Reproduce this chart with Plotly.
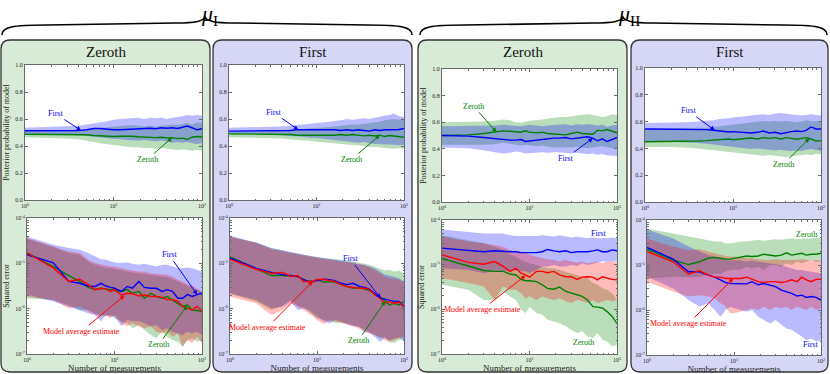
import numpy as np
import plotly.graph_objects as go

W, H = 830, 374
SERIF = "Liberation Serif, Times New Roman, serif"

# number of measurements (x axis, shared by every series)
n_meas = [1, 2, 3, 4, 5, 6, 7, 8, 9, 10, 12, 14, 16, 19, 22, 26, 30, 35, 40, 46, 53, 60, 68, 77, 88, 100]

# ---------------- posterior probability of model (top row) ----------------
# mu_I, true model "Zeroth"
post_I0_first_mid = [0.513,0.513,0.513,0.514,0.52,0.53,0.53,0.525,0.522,0.52,0.52,0.522,0.525,0.525,0.53,0.532,0.528,0.535,0.532,0.535,0.53,0.54,0.548,0.535,0.52,0.528]
post_I0_first_hi = [0.535,0.54,0.545,0.55,0.56,0.57,0.575,0.58,0.59,0.595,0.6,0.6,0.605,0.61,0.6,0.61,0.605,0.61,0.6,0.61,0.615,0.62,0.63,0.625,0.63,0.625]
post_I0_first_lo = [0.49,0.488,0.485,0.48,0.475,0.47,0.465,0.46,0.455,0.45,0.45,0.445,0.44,0.44,0.445,0.44,0.435,0.44,0.43,0.425,0.43,0.425,0.43,0.42,0.415,0.42]
post_I0_zeroth_mid = [0.487,0.487,0.487,0.486,0.483,0.478,0.475,0.472,0.47,0.47,0.472,0.475,0.472,0.468,0.465,0.466,0.462,0.465,0.46,0.462,0.455,0.458,0.448,0.465,0.47,0.468]
post_I0_zeroth_hi = [0.51,0.51,0.512,0.515,0.52,0.525,0.53,0.535,0.54,0.545,0.55,0.55,0.555,0.55,0.545,0.55,0.545,0.55,0.555,0.56,0.555,0.56,0.57,0.56,0.575,0.57]
post_I0_zeroth_lo = [0.465,0.46,0.455,0.45,0.44,0.43,0.42,0.415,0.41,0.405,0.4,0.395,0.39,0.39,0.385,0.385,0.38,0.385,0.38,0.375,0.37,0.375,0.37,0.365,0.37,0.365]
# mu_I, true model "First"
post_I1_first_mid = [0.51,0.51,0.511,0.512,0.515,0.52,0.52,0.52,0.522,0.52,0.52,0.518,0.52,0.515,0.52,0.515,0.52,0.515,0.51,0.52,0.515,0.52,0.518,0.52,0.522,0.53]
post_I1_first_hi = [0.535,0.54,0.54,0.545,0.55,0.555,0.56,0.56,0.565,0.57,0.575,0.58,0.585,0.59,0.6,0.595,0.6,0.605,0.6,0.61,0.62,0.625,0.63,0.64,0.62,0.615]
post_I1_first_lo = [0.49,0.488,0.485,0.48,0.475,0.472,0.47,0.465,0.46,0.46,0.455,0.45,0.445,0.44,0.435,0.43,0.425,0.43,0.42,0.415,0.41,0.415,0.41,0.41,0.405,0.41]
post_I1_zeroth_mid = [0.49,0.49,0.489,0.488,0.485,0.48,0.48,0.48,0.478,0.48,0.48,0.482,0.48,0.485,0.48,0.485,0.48,0.475,0.48,0.475,0.48,0.47,0.478,0.475,0.47,0.465]
post_I1_zeroth_hi = [0.51,0.512,0.515,0.518,0.52,0.522,0.525,0.528,0.53,0.532,0.535,0.54,0.545,0.55,0.555,0.56,0.56,0.565,0.57,0.575,0.58,0.59,0.595,0.6,0.595,0.6]
post_I1_zeroth_lo = [0.465,0.46,0.458,0.455,0.45,0.445,0.44,0.44,0.435,0.432,0.43,0.425,0.42,0.415,0.41,0.41,0.405,0.4,0.395,0.39,0.39,0.385,0.38,0.38,0.385,0.38]
# mu_II, true model "Zeroth"
post_II0_first_mid = [0.5,0.495,0.485,0.475,0.47,0.465,0.465,0.47,0.455,0.46,0.465,0.47,0.475,0.48,0.48,0.485,0.475,0.48,0.485,0.49,0.48,0.46,0.475,0.455,0.47,0.485]
post_II0_first_hi = [0.57,0.57,0.57,0.575,0.58,0.575,0.57,0.57,0.575,0.58,0.575,0.57,0.575,0.58,0.58,0.585,0.575,0.585,0.58,0.585,0.58,0.575,0.58,0.565,0.575,0.58]
post_II0_first_lo = [0.41,0.405,0.39,0.375,0.365,0.37,0.38,0.375,0.365,0.365,0.37,0.375,0.37,0.375,0.375,0.37,0.365,0.37,0.365,0.36,0.365,0.355,0.36,0.35,0.345,0.345]
post_II0_zeroth_mid = [0.5,0.505,0.515,0.525,0.535,0.532,0.528,0.525,0.535,0.525,0.52,0.525,0.515,0.51,0.505,0.505,0.515,0.525,0.515,0.512,0.51,0.54,0.535,0.545,0.535,0.52]
post_II0_zeroth_hi = [0.6,0.6,0.605,0.61,0.62,0.615,0.6,0.595,0.605,0.61,0.615,0.62,0.63,0.635,0.64,0.64,0.645,0.65,0.655,0.66,0.655,0.65,0.64,0.645,0.66,0.655]
post_II0_zeroth_lo = [0.43,0.43,0.43,0.435,0.445,0.44,0.43,0.425,0.43,0.425,0.42,0.425,0.415,0.41,0.405,0.41,0.41,0.415,0.41,0.405,0.41,0.415,0.42,0.41,0.405,0.4]
# mu_II, true model "First"
post_II1_first_mid = [0.545,0.545,0.545,0.543,0.54,0.535,0.53,0.525,0.522,0.525,0.52,0.515,0.515,0.52,0.53,0.515,0.52,0.51,0.52,0.525,0.53,0.525,0.535,0.56,0.545,0.545]
post_II1_first_hi = [0.59,0.59,0.595,0.6,0.605,0.61,0.62,0.62,0.625,0.63,0.635,0.64,0.645,0.65,0.655,0.65,0.66,0.665,0.66,0.655,0.65,0.645,0.65,0.655,0.65,0.645]
post_II1_first_lo = [0.45,0.45,0.445,0.44,0.435,0.43,0.425,0.42,0.415,0.41,0.405,0.4,0.395,0.4,0.395,0.39,0.385,0.39,0.385,0.38,0.385,0.38,0.39,0.395,0.385,0.38]
post_II1_zeroth_mid = [0.45,0.45,0.452,0.455,0.458,0.462,0.465,0.465,0.47,0.465,0.472,0.475,0.478,0.47,0.48,0.475,0.48,0.47,0.48,0.475,0.468,0.475,0.48,0.47,0.455,0.458]
post_II1_zeroth_hi = [0.55,0.55,0.55,0.55,0.555,0.56,0.565,0.57,0.575,0.58,0.585,0.59,0.595,0.6,0.605,0.6,0.605,0.6,0.605,0.6,0.595,0.6,0.61,0.605,0.6,0.6]
post_II1_zeroth_lo = [0.41,0.41,0.405,0.4,0.395,0.39,0.385,0.38,0.375,0.37,0.365,0.36,0.355,0.35,0.345,0.35,0.345,0.34,0.335,0.34,0.345,0.35,0.355,0.35,0.36,0.355]

# ---------------- squared error, log10 (bottom row) ----------------
err_I0_first_mid = [-4.81,-4.99,-5.40,-5.44,-5.50,-5.51,-5.44,-5.50,-5.53,-5.55,-5.62,-5.51,-5.55,-5.40,-5.53,-5.55,-5.55,-5.62,-5.58,-5.62,-5.77,-5.77,-5.69,-5.73,-5.69,-5.66]
err_I0_first_hi = [-4.41,-4.59,-4.66,-4.70,-4.77,-4.85,-4.91,-4.92,-4.96,-4.98,-4.99,-4.98,-5.01,-5.03,-5.01,-5.05,-5.07,-5.03,-5.03,-5.07,-5.11,-5.11,-5.09,-5.11,-5.14,-5.18]
err_I0_first_lo = [-5.69,-5.84,-5.95,-6.03,-6.10,-6.14,-6.28,-6.14,-6.17,-6.17,-6.39,-6.25,-6.28,-6.28,-6.32,-6.39,-6.36,-6.47,-6.43,-6.51,-6.54,-6.58,-6.51,-6.54,-6.51,-6.58]
err_I0_zeroth_mid = [-4.77,-5.07,-5.27,-5.40,-5.53,-5.58,-5.55,-5.57,-5.58,-5.60,-5.62,-5.58,-5.66,-5.62,-5.77,-5.66,-5.73,-5.77,-5.73,-5.81,-5.88,-5.95,-5.92,-6.03,-6.04,-6.06]
err_I0_zeroth_hi = [-4.46,-4.64,-4.77,-4.81,-4.96,-5.03,-5.07,-5.11,-5.11,-5.13,-5.16,-5.18,-5.20,-5.22,-5.23,-5.25,-5.27,-5.29,-5.30,-5.35,-5.40,-5.44,-5.50,-5.53,-5.58,-5.64]
err_I0_zeroth_lo = [-5.77,-5.81,-5.92,-6.03,-6.03,-6.10,-6.14,-6.17,-6.14,-6.21,-6.28,-6.32,-6.43,-6.36,-6.47,-6.58,-6.65,-6.51,-6.62,-6.69,-6.73,-6.84,-6.69,-6.65,-6.73,-6.69]
err_I0_avg_mid = [-4.77,-5.10,-5.40,-5.35,-5.47,-5.58,-5.55,-5.57,-5.62,-5.58,-5.70,-5.66,-5.67,-5.72,-5.70,-5.73,-5.73,-5.75,-5.80,-5.80,-5.84,-5.95,-5.99,-6.03,-5.95,-6.06]
err_I0_avg_hi = [-4.44,-4.63,-4.74,-4.77,-4.92,-4.99,-5.03,-5.05,-5.07,-5.07,-5.11,-5.14,-5.16,-5.18,-5.18,-5.22,-5.23,-5.25,-5.25,-5.29,-5.36,-5.40,-5.47,-5.49,-5.55,-5.62]
err_I0_avg_lo = [-5.73,-5.81,-5.99,-5.95,-6.06,-6.14,-6.17,-6.14,-6.21,-6.14,-6.32,-6.39,-6.32,-6.39,-6.43,-6.39,-6.51,-6.54,-6.51,-6.62,-6.54,-6.84,-6.69,-6.76,-6.62,-6.76]

err_I1_first_mid = [-4.88,-5.11,-5.20,-5.25,-5.27,-5.29,-5.36,-5.40,-5.40,-5.38,-5.35,-5.36,-5.38,-5.44,-5.47,-5.44,-5.50,-5.53,-5.57,-5.66,-5.77,-5.79,-5.81,-5.84,-5.84,-5.95]
err_I1_first_hi = [-4.39,-4.54,-4.66,-4.71,-4.76,-4.79,-4.81,-4.83,-4.85,-4.86,-4.88,-4.91,-4.92,-4.94,-4.96,-4.98,-5.01,-5.03,-5.07,-5.11,-5.18,-5.25,-5.27,-5.30,-5.33,-5.40]
err_I1_first_lo = [-5.66,-5.81,-5.99,-5.95,-5.84,-6.03,-5.99,-6.03,-6.10,-6.17,-6.28,-6.32,-6.25,-6.28,-6.34,-6.38,-6.39,-6.51,-6.53,-6.62,-6.73,-6.65,-6.69,-6.67,-6.63,-6.69]
err_I1_zeroth_mid = [-4.86,-5.11,-5.27,-5.27,-5.29,-5.29,-5.36,-5.40,-5.40,-5.36,-5.42,-5.40,-5.42,-5.47,-5.50,-5.55,-5.53,-5.57,-5.60,-5.66,-5.73,-5.81,-5.92,-5.88,-5.92,-5.84]
err_I1_zeroth_hi = [-4.42,-4.54,-4.67,-4.71,-4.76,-4.79,-4.81,-4.83,-4.85,-4.86,-4.88,-4.89,-4.91,-4.92,-4.94,-4.96,-4.99,-5.01,-5.03,-5.07,-5.11,-5.16,-5.14,-5.18,-5.16,-5.22]
err_I1_zeroth_lo = [-5.67,-5.84,-6.03,-5.94,-5.81,-5.94,-5.97,-6.06,-6.14,-6.21,-6.25,-6.28,-6.31,-6.32,-6.32,-6.36,-6.41,-6.45,-6.51,-6.58,-6.65,-6.62,-6.73,-6.76,-6.69,-6.69]
err_I1_avg_mid = [-4.91,-5.13,-5.22,-5.20,-5.29,-5.27,-5.40,-5.40,-5.40,-5.36,-5.35,-5.38,-5.40,-5.47,-5.51,-5.53,-5.55,-5.55,-5.58,-5.69,-5.77,-5.88,-5.84,-5.88,-5.86,-5.97]
err_I1_avg_hi = [-4.41,-4.55,-4.69,-4.74,-4.77,-4.81,-4.83,-4.85,-4.86,-4.88,-4.91,-4.92,-4.94,-4.96,-4.98,-4.99,-5.03,-5.05,-5.08,-5.14,-5.23,-5.29,-5.33,-5.35,-5.36,-5.44]
err_I1_avg_lo = [-5.73,-5.88,-6.14,-6.03,-5.88,-5.95,-6.03,-6.10,-6.17,-6.25,-6.34,-6.25,-6.28,-6.31,-6.36,-6.39,-6.43,-6.51,-6.54,-6.58,-6.62,-6.69,-6.73,-6.69,-6.65,-6.62]

err_II0_first_mid = [-4.63,-4.67,-4.71,-4.69,-4.71,-4.71,-4.71,-4.73,-4.73,-4.73,-4.73,-4.71,-4.66,-4.69,-4.71,-4.69,-4.73,-4.71,-4.71,-4.71,-4.69,-4.67,-4.71,-4.71,-4.67,-4.69]
err_II0_first_hi = [-4.21,-4.26,-4.30,-4.30,-4.30,-4.34,-4.36,-4.36,-4.36,-4.36,-4.36,-4.34,-4.36,-4.37,-4.34,-4.37,-4.39,-4.37,-4.39,-4.41,-4.39,-4.41,-4.41,-4.41,-4.39,-4.41]
err_II0_first_lo = [-5.08,-5.12,-5.19,-5.13,-5.15,-5.15,-5.12,-5.15,-5.15,-5.19,-5.12,-5.04,-5.04,-5.01,-5.04,-5.04,-5.01,-5.03,-4.97,-5.01,-4.97,-4.95,-4.93,-4.93,-4.93,-4.93]
err_II0_zeroth_mid = [-4.86,-5.03,-5.13,-5.15,-5.15,-5.21,-5.23,-5.33,-5.36,-5.36,-5.38,-5.45,-5.53,-5.55,-5.50,-5.60,-5.64,-5.68,-5.71,-5.79,-5.94,-5.95,-5.97,-6.05,-6.16,-6.32]
err_II0_zeroth_hi = [-4.34,-4.45,-4.52,-4.60,-4.67,-4.78,-4.82,-4.89,-4.93,-4.97,-5.01,-5.04,-5.08,-5.08,-5.12,-5.15,-5.19,-5.23,-5.27,-5.30,-5.41,-5.45,-5.53,-5.56,-5.64,-5.79]
err_II0_zeroth_lo = [-5.45,-5.56,-5.79,-5.79,-5.60,-5.71,-5.79,-6.01,-6.08,-5.94,-6.08,-6.12,-6.23,-6.27,-6.31,-6.38,-6.46,-6.53,-6.49,-6.61,-6.64,-6.53,-6.68,-6.72,-6.83,-6.79]
err_II0_avg_mid = [-4.78,-4.95,-4.99,-4.93,-5.04,-5.15,-5.08,-5.19,-5.23,-5.28,-5.15,-5.15,-5.18,-5.15,-5.23,-5.27,-5.27,-5.33,-5.28,-5.27,-5.28,-5.34,-5.27,-5.30,-5.33,-5.34]
err_II0_avg_hi = [-4.37,-4.48,-4.52,-4.56,-4.60,-4.67,-4.71,-4.73,-4.74,-4.78,-4.82,-4.86,-4.88,-4.89,-4.93,-4.89,-4.93,-4.95,-4.93,-4.97,-4.95,-4.93,-4.97,-4.93,-4.93,-4.95]
err_II0_avg_lo = [-5.30,-5.41,-5.49,-5.79,-5.49,-5.56,-5.56,-5.64,-5.75,-5.71,-5.79,-5.71,-5.75,-5.79,-5.75,-5.82,-5.86,-5.79,-5.82,-5.86,-5.79,-5.86,-5.82,-5.79,-5.82,-5.79]

err_II1_first_mid = [-4.61,-4.87,-5.15,-5.15,-5.22,-5.27,-5.33,-5.39,-5.41,-5.41,-5.41,-5.42,-5.37,-5.44,-5.41,-5.44,-5.48,-5.56,-5.59,-5.63,-5.69,-5.67,-5.72,-5.70,-5.72,-5.78]
err_II1_first_hi = [-4.21,-4.41,-4.59,-4.70,-4.78,-4.81,-4.85,-4.87,-4.90,-4.89,-4.90,-4.93,-4.90,-4.93,-4.95,-4.96,-4.98,-5.00,-5.04,-5.07,-5.11,-5.11,-5.13,-5.15,-5.17,-5.19]
err_II1_first_lo = [-5.26,-5.52,-5.78,-5.93,-5.85,-6.00,-6.15,-6.00,-5.93,-5.96,-6.00,-6.04,-6.00,-6.15,-6.22,-6.30,-6.22,-6.33,-6.41,-6.44,-6.52,-6.59,-6.67,-6.63,-6.70,-6.67]
err_II1_zeroth_mid = [-4.65,-4.89,-4.99,-4.93,-4.85,-4.83,-4.85,-4.87,-4.87,-4.85,-4.83,-4.80,-4.81,-4.80,-4.76,-4.78,-4.80,-4.78,-4.73,-4.78,-4.76,-4.74,-4.78,-4.76,-4.76,-4.74]
err_II1_zeroth_hi = [-4.19,-4.30,-4.37,-4.41,-4.44,-4.48,-4.48,-4.52,-4.52,-4.50,-4.48,-4.48,-4.46,-4.44,-4.46,-4.44,-4.43,-4.44,-4.43,-4.41,-4.43,-4.41,-4.41,-4.41,-4.39,-4.41]
err_II1_zeroth_lo = [-5.30,-5.26,-5.27,-5.26,-5.22,-5.20,-5.19,-5.15,-5.11,-5.11,-5.10,-5.04,-5.07,-5.04,-5.11,-5.00,-5.00,-5.04,-4.96,-5.00,-4.93,-4.96,-4.93,-4.89,-4.93,-4.93]
err_II1_avg_mid = [-4.70,-4.93,-5.20,-5.13,-5.22,-5.27,-5.27,-5.30,-5.30,-5.30,-5.30,-5.27,-5.32,-5.37,-5.39,-5.37,-5.37,-5.39,-5.37,-5.33,-5.37,-5.27,-5.33,-5.37,-5.32,-5.32]
err_II1_avg_hi = [-4.41,-4.59,-4.67,-4.65,-4.70,-4.74,-4.78,-4.80,-4.81,-4.81,-4.83,-4.85,-4.85,-4.87,-4.89,-4.89,-4.87,-4.89,-4.89,-4.90,-4.89,-4.87,-4.89,-4.90,-4.89,-4.90]
err_II1_avg_lo = [-5.37,-5.59,-5.70,-5.67,-5.70,-5.74,-5.85,-5.93,-6.07,-6.07,-6.04,-6.00,-5.96,-6.00,-5.93,-6.00,-5.93,-5.96,-5.93,-6.00,-5.93,-5.96,-6.00,-5.93,-6.00,-5.96]

# ---------------- styling ----------------
LINE = {"first": "#0000ff", "zeroth": "#008000", "avg": "#ff0000"}
FILL = {"first": "rgba(0,0,255,0.27)", "zeroth": "rgba(0,128,0,0.27)", "avg": "rgba(255,0,0,0.27)"}
GREEN_BG, BLUE_BG = "#d8ebd6", "#d6d6f7"
FRAME = "#6a6a6a"
TXT = "#222222"

post = {
    "I0": {"zeroth": (post_I0_zeroth_mid, post_I0_zeroth_lo, post_I0_zeroth_hi),
           "first": (post_I0_first_mid, post_I0_first_lo, post_I0_first_hi)},
    "I1": {"zeroth": (post_I1_zeroth_mid, post_I1_zeroth_lo, post_I1_zeroth_hi),
           "first": (post_I1_first_mid, post_I1_first_lo, post_I1_first_hi)},
    "II0": {"zeroth": (post_II0_zeroth_mid, post_II0_zeroth_lo, post_II0_zeroth_hi),
            "first": (post_II0_first_mid, post_II0_first_lo, post_II0_first_hi)},
    "II1": {"zeroth": (post_II1_zeroth_mid, post_II1_zeroth_lo, post_II1_zeroth_hi),
            "first": (post_II1_first_mid, post_II1_first_lo, post_II1_first_hi)},
}
err = {
    "I0": {"zeroth": (err_I0_zeroth_mid, err_I0_zeroth_lo, err_I0_zeroth_hi),
           "first": (err_I0_first_mid, err_I0_first_lo, err_I0_first_hi),
           "avg": (err_I0_avg_mid, err_I0_avg_lo, err_I0_avg_hi)},
    "I1": {"zeroth": (err_I1_zeroth_mid, err_I1_zeroth_lo, err_I1_zeroth_hi),
           "first": (err_I1_first_mid, err_I1_first_lo, err_I1_first_hi),
           "avg": (err_I1_avg_mid, err_I1_avg_lo, err_I1_avg_hi)},
    "II0": {"zeroth": (err_II0_zeroth_mid, err_II0_zeroth_lo, err_II0_zeroth_hi),
            "first": (err_II0_first_mid, err_II0_first_lo, err_II0_first_hi),
            "avg": (err_II0_avg_mid, err_II0_avg_lo, err_II0_avg_hi)},
    "II1": {"zeroth": (err_II1_zeroth_mid, err_II1_zeroth_lo, err_II1_zeroth_hi),
            "first": (err_II1_first_mid, err_II1_first_lo, err_II1_first_hi),
            "avg": (err_II1_avg_mid, err_II1_avg_lo, err_II1_avg_hi)},
}

# label annotations: (text, series, text position, arrow head or None)
post_notes = {
    "I0": [("First", "first", (2.2, 0.64), (4.3, 0.515)), ("Zeroth", "zeroth", (24, 0.30), (46, 0.462))],
    "I1": [("First", "first", (3.2, 0.65), (6.2, 0.52)), ("Zeroth", "zeroth", (25, 0.30), (53, 0.48))],
    "II0": [("Zeroth", "zeroth", (2.3, 0.72), (4.2, 0.525)), ("First", "first", (26, 0.33), (53, 0.48))],
    "II1": [("First", "first", (3.1, 0.68), (6.2, 0.535)), ("Zeroth", "zeroth", (37, 0.28), (74, 0.475))],
}
err_notes = {
    "I0": [("First", "first", (42, -4.81), (88, -5.69)),
           ("Model average estimate", "avg", (4.2, -6.5), (13, -5.71)),
           ("Zeroth", "zeroth", (32, -6.79), (68, -5.93))],
    "I1": [("First", "first", (24, -4.9), (54, -5.77)),
           ("Model average estimate", "avg", (2.7, -6.41), (8.9, -5.40)),
           ("Zeroth", "zeroth", (30, -6.7), (61, -5.83))],
    "II0": [("First", "first", (62, -4.31), None),
            ("Model average estimate", "avg", (2.9, -6.0), (9.0, -5.24)),
            ("Zeroth", "zeroth", (41, -6.74), None)],
    "II1": [("Zeroth", "zeroth", (69, -4.32), None),
            ("First", "first", (75, -6.76), None),
            ("Model average estimate", "avg", (3.0, -6.3), (9.8, -5.30))],
}

# panel layout in pixels
panels = [
    dict(key="I0", title="Zeroth", bg=GREEN_BG, box=(1, 40, 210, 372), top=(25, 202, 65, 200), bot=(27, 202, 218, 354), ylab=True),
    dict(key="I1", title="First", bg=BLUE_BG, box=(213, 40, 412, 372), top=(229, 404, 65, 200), bot=(230, 404, 218, 354), ylab=False),
    dict(key="II0", title="Zeroth", bg=GREEN_BG, box=(418, 40, 627, 372), top=(442, 617, 69, 202), bot=(442, 617, 220, 354), ylab=True),
    dict(key="II1", title="First", bg=BLUE_BG, box=(631, 40, 828, 372), top=(645, 821, 68, 202), bot=(647, 821, 220, 355), ylab=False),
]


def px(x):
    return x / W


def py(y):
    return 1 - y / H


def pt(x, y):
    return f"{px(x):.5f},{py(y):.5f}"


def rrect(x0, y0, x1, y1, r):
    return (f"M {pt(x0 + r, y0)} L {pt(x1 - r, y0)} Q {pt(x1, y0)} {pt(x1, y0 + r)} "
            f"L {pt(x1, y1 - r)} Q {pt(x1, y1)} {pt(x1 - r, y1)} L {pt(x0 + r, y1)} "
            f"Q {pt(x0, y1)} {pt(x0, y1 - r)} L {pt(x0, y0 + r)} Q {pt(x0, y0)} {pt(x0 + r, y0)} Z")


def brace(x0, x1, xm, yend, ymid, ytip):
    return (f"M {pt(x0, yend)} C {pt(x0, yend - 8)} {pt(x0 + 10, ymid + 1)} {pt(x0 + 45, ymid + 1)} "
            f"L {pt(xm - 30, ymid - 1)} C {pt(xm - 8, ymid - 1)} {pt(xm - 2, ymid - 3)} {pt(xm, ytip)} "
            f"C {pt(xm + 2, ymid - 3)} {pt(xm + 8, ymid - 1)} {pt(xm + 30, ymid - 1)} "
            f"L {pt(x1 - 45, ymid + 1)} C {pt(x1 - 10, ymid + 1)} {pt(x1, yend - 8)} {pt(x1, yend)}")


fig = go.Figure()
shapes, annotations = [], []
layout_axes = {}

log_minor_x = [2, 3, 4, 5, 6, 7, 8, 9, 20, 30, 40, 50, 60, 70, 80, 90]
log_minor_y = [m * 10.0 ** e for e in (-7, -6, -5) for m in (2, 3, 4, 5, 6, 7, 8, 9)]

for p in panels:
    shapes.append(dict(type="path", xref="paper", yref="paper", path=rrect(*p["box"], 9),
                       fillcolor=p["bg"], line=dict(color="#333333", width=1.3), layer="below"))

ax_i = 0
for p in panels:
    x0, y0, x1, y1 = p["box"]
    annotations.append(dict(text=p["title"], xref="paper", yref="paper", x=px((x0 + x1) / 2), y=py(52),
                            xanchor="center", yanchor="middle", showarrow=False,
                            font=dict(family=SERIF, size=15, color="#111111")))
    for row in ("top", "bot"):
        ax_i += 1
        xs = "x" if ax_i == 1 else f"x{ax_i}"
        ys = "y" if ax_i == 1 else f"y{ax_i}"
        l, r, t, b = p[row]
        shapes.append(dict(type="rect", xref="paper", yref="paper", x0=px(l), x1=px(r), y0=py(b), y1=py(t),
                           fillcolor="white", line=dict(width=0), layer="below"))
        common = dict(showline=True, linecolor=FRAME, linewidth=1, mirror="ticks", ticks="inside",
                      ticklen=3, tickwidth=0.8, tickcolor=FRAME, showgrid=False, zeroline=False,
                      automargin=False, tickfont=dict(family=SERIF, size=6, color=TXT))
        xa = dict(common, type="log", range=[0, 2], domain=[px(l), px(r)], anchor=ys,
                  tickvals=[1, 10, 100], ticktext=["10<sup>0</sup>", "10<sup>1</sup>", "10<sup>2</sup>"],
                  minor=dict(ticks="inside", ticklen=1.5, tickcolor=FRAME, tickvals=log_minor_x, showgrid=False))
        if row == "bot":
            xa["title"] = dict(text="Number of measurements", standoff=0,
                               font=dict(family=SERIF, size=9, color=TXT))
            ya = dict(common, type="log", range=[-7, -4], domain=[py(b), py(t)], anchor=xs,
                      tickvals=[1e-7, 1e-6, 1e-5, 1e-4],
                      ticktext=["10<sup>-7</sup>", "10<sup>-6</sup>", "10<sup>-5</sup>", "10<sup>-4</sup>"],
                      minor=dict(ticks="inside", ticklen=1.5, tickcolor=FRAME, tickvals=log_minor_y, showgrid=False))
            if p["ylab"]:
                ya["title"] = dict(text="Squared error", standoff=4, font=dict(family=SERIF, size=8, color=TXT))
            data = err[p["key"]]
            order = ["zeroth", "first", "avg"]
            conv = lambda v: list(10.0 ** np.array(v))
            notes = err_notes[p["key"]]
        else:
            ya = dict(common, range=[0, 1], domain=[py(b), py(t)], anchor=xs,
                      tickvals=[0, 0.2, 0.4, 0.6, 0.8, 1.0], ticktext=["0.0", "0.2", "0.4", "0.6", "0.8", "1.0"])
            if p["ylab"]:
                ya["title"] = dict(text="Posterior probability of model", standoff=4,
                                   font=dict(family=SERIF, size=8, color=TXT))
            data = post[p["key"]]
            order = ["zeroth", "first"]
            conv = lambda v: list(v)
            notes = post_notes[p["key"]]
        layout_axes["xaxis" if ax_i == 1 else f"xaxis{ax_i}"] = xa
        layout_axes["yaxis" if ax_i == 1 else f"yaxis{ax_i}"] = ya

        for s in order:
            mid, lo, hi = data[s]
            fig.add_trace(go.Scatter(x=n_meas + n_meas[::-1], y=conv(hi) + conv(lo)[::-1], xaxis=xs, yaxis=ys,
                                     mode="lines", fill="toself", fillcolor=FILL[s], line=dict(width=0),
                                     hoverinfo="skip", showlegend=False))
        for s in order:
            mid, lo, hi = data[s]
            fig.add_trace(go.Scatter(x=n_meas, y=conv(mid), xaxis=xs, yaxis=ys, mode="lines",
                                     line=dict(color=LINE[s], width=1.4), hoverinfo="skip", showlegend=False))

        for text, s, tpos, head in notes:
            tx, tyv = np.log10(tpos[0]), tpos[1]
            font = dict(family=SERIF, size=8, color=LINE[s])
            if head is None:
                annotations.append(dict(text=text, xref=xs, yref=ys, x=tx, y=tyv, showarrow=False, font=font))
            else:
                annotations.append(dict(text=text, xref=xs, yref=ys, x=np.log10(head[0]), y=head[1],
                                        axref=xs, ayref=ys, ax=tx, ay=tyv, showarrow=True,
                                        arrowhead=2, arrowsize=0.9, arrowwidth=1, arrowcolor=LINE[s],
                                        font=font))

# braces and mu labels
shapes.append(dict(type="path", xref="paper", yref="paper", path=brace(2, 412, 205, 35, 24, 17),
                   line=dict(color="black", width=1.6)))
shapes.append(dict(type="path", xref="paper", yref="paper", path=brace(420, 827, 623, 35, 24, 17),
                   line=dict(color="black", width=1.6)))
for lbl, xc in (("<i>μ</i><sub>I</sub>", 209), ("<i>μ</i><sub>II</sub>", 629)):
    annotations.append(dict(text=lbl, xref="paper", yref="paper", x=px(xc), y=1.0,
                            xanchor="center", yanchor="top", showarrow=False, borderpad=0,
                            font=dict(family=SERIF, size=22, color="black")))

fig.update_layout(width=W, height=H, margin=dict(l=0, r=0, t=0, b=0), autosize=False,
                  paper_bgcolor="white", plot_bgcolor="rgba(0,0,0,0)", hovermode=False,
                  shapes=shapes, annotations=annotations, **layout_axes)

fig.write_html("out.html", config={"displayModeBar": False},
               post_script="document.body.style.margin='0';document.body.style.padding='0';"
                           "document.body.style.overflow='hidden';")
